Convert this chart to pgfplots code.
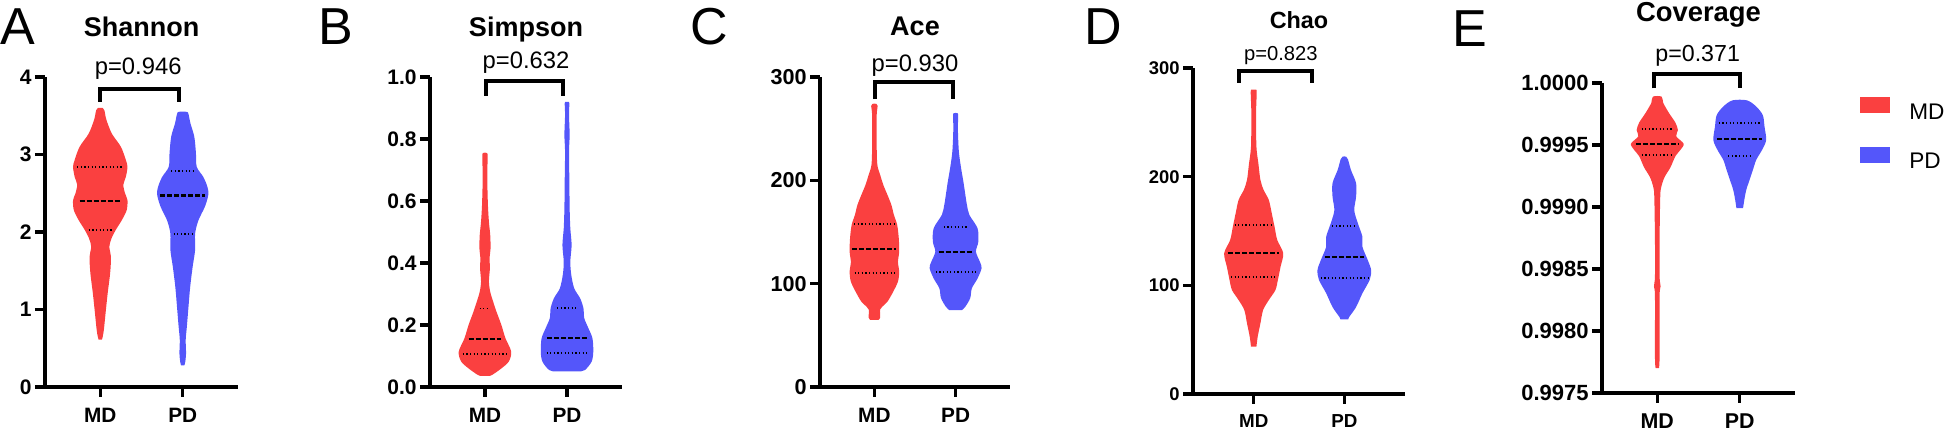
\documentclass[border=0pt]{standalone}
\usepackage{fontspec}
\setmainfont{Liberation Sans}
\usepackage{pgfplots}
\usepackage{pgfplotstable}
\pgfplotsset{compat=1.18}

\definecolor{mdred}{RGB}{250,64,64}
\definecolor{pdblue}{RGB}{84,86,250}

% violin outlines: y value and signed half width (category units),
% up the right side, then down the left side
\pgfplotstableread{
y w
0.61 0.02
0.65 0.03
0.74 0.044
0.95 0.064
1.21 0.09
1.47 0.12
1.68 0.13
1.81 0.11
1.92 0.137
2.03 0.19
2.15 0.26
2.28 0.32
2.41 0.33
2.50 0.30
2.61 0.28
2.71 0.31
2.84 0.33
2.93 0.31
3.10 0.25
3.27 0.14
3.45 0.074
3.57 0.05
3.60 0.03
3.60 -0.03
3.57 -0.05
3.45 -0.074
3.27 -0.14
3.10 -0.25
2.93 -0.31
2.84 -0.33
2.71 -0.31
2.61 -0.28
2.50 -0.30
2.41 -0.33
2.28 -0.32
2.15 -0.26
2.03 -0.19
1.92 -0.137
1.81 -0.11
1.68 -0.13
1.47 -0.12
1.21 -0.09
0.95 -0.064
0.74 -0.044
0.65 -0.03
0.61 -0.02
}\shanMD
\pgfplotstableread{
y w
0.28 0.02
0.32 0.03
0.43 0.04
0.61 0.036
0.78 0.05
1.04 0.07
1.29 0.09
1.55 0.12
1.77 0.15
1.98 0.15
2.15 0.19
2.33 0.27
2.48 0.31
2.58 0.30
2.71 0.25
2.84 0.17
3.02 0.16
3.23 0.14
3.40 0.094
3.52 0.07
3.55 0.05
3.55 -0.05
3.52 -0.07
3.40 -0.094
3.23 -0.14
3.02 -0.16
2.84 -0.17
2.71 -0.25
2.58 -0.30
2.48 -0.31
2.33 -0.27
2.15 -0.19
1.98 -0.15
1.77 -0.15
1.55 -0.12
1.29 -0.09
1.04 -0.07
0.78 -0.05
0.61 -0.036
0.43 -0.04
0.32 -0.03
0.28 -0.02
}\shanPD
\pgfplotstableread{
y w
0.036 0.06
0.041 0.10
0.060 0.20
0.082 0.29
0.114 0.32
0.157 0.25
0.200 0.20
0.243 0.14
0.275 0.10
0.307 0.064
0.340 0.048
0.383 0.06
0.415 0.056
0.447 0.068
0.490 0.064
0.533 0.048
0.587 0.036
0.673 0.028
0.745 0.032
0.755 0.02
0.755 -0.02
0.745 -0.032
0.673 -0.028
0.587 -0.036
0.533 -0.048
0.490 -0.064
0.447 -0.068
0.415 -0.056
0.383 -0.06
0.340 -0.048
0.307 -0.064
0.275 -0.10
0.243 -0.14
0.200 -0.20
0.157 -0.25
0.114 -0.32
0.082 -0.29
0.060 -0.20
0.041 -0.10
0.036 -0.06
}\simpMD
\pgfplotstableread{
y w
0.050 0.15
0.055 0.22
0.082 0.30
0.114 0.32
0.157 0.31
0.190 0.26
0.222 0.21
0.254 0.20
0.286 0.16
0.318 0.088
0.361 0.052
0.404 0.04
0.458 0.056
0.512 0.04
0.576 0.032
0.673 0.028
0.760 0.024
0.813 0.032
0.877 0.024
0.915 0.028
0.920 0.015
0.920 -0.015
0.915 -0.028
0.877 -0.024
0.813 -0.032
0.760 -0.024
0.673 -0.028
0.576 -0.032
0.512 -0.04
0.458 -0.056
0.404 -0.04
0.361 -0.052
0.318 -0.088
0.286 -0.16
0.254 -0.20
0.222 -0.21
0.190 -0.26
0.157 -0.31
0.114 -0.32
0.082 -0.30
0.055 -0.22
0.050 -0.15
}\simpPD
\pgfplotstableread{
y w
65 0.05
67 0.07
75 0.07
78 0.10
82.5 0.16
92 0.23
102 0.29
111.6 0.305
121 0.29
131 0.305
144 0.30
157 0.28
166.5 0.24
176 0.21
186 0.16
195.5 0.11
205 0.072
215 0.036
234 0.028
263 0.028
272 0.04
274 0.025
274 -0.025
272 -0.04
263 -0.028
234 -0.028
215 -0.036
205 -0.072
195.5 -0.11
186 -0.16
176 -0.21
166.5 -0.24
157 -0.28
144 -0.30
131 -0.305
121 -0.29
111.6 -0.305
102 -0.29
92 -0.23
82.5 -0.16
78 -0.10
75 -0.07
67 -0.07
65 -0.05
}\aceMD
\pgfplotstableread{
y w
74.5 0.08
77.7 0.12
86 0.18
95.5 0.20
105 0.27
115 0.32
121 0.30
131 0.25
140.6 0.28
153.6 0.27
166.5 0.17
176 0.14
186 0.12
198.7 0.096
211.6 0.068
228 0.04
250 0.028
263 0.032
265 0.02
265 -0.02
263 -0.032
250 -0.028
228 -0.04
211.6 -0.068
198.7 -0.096
186 -0.12
176 -0.14
166.5 -0.17
153.6 -0.27
140.6 -0.28
131 -0.25
121 -0.30
115 -0.32
105 -0.27
95.5 -0.20
86 -0.18
77.7 -0.12
74.5 -0.08
}\acePD
\pgfplotstableread{
y w
43.5 0.03
52.7 0.044
65 0.074
77.3 0.104
86.5 0.167
95.7 0.24
105 0.267
117 0.296
129.5 0.326
141.7 0.26
154 0.23
166 0.20
178.5 0.167
187.7 0.11
197 0.074
212 0.052
227.6 0.03
258 0.026
278 0.033
280 0.02
280 -0.02
278 -0.033
258 -0.026
227.6 -0.03
212 -0.052
197 -0.074
187.7 -0.11
178.5 -0.167
166 -0.20
154 -0.23
141.7 -0.26
129.5 -0.326
117 -0.296
105 -0.267
95.7 -0.24
86.5 -0.167
77.3 -0.104
65 -0.074
52.7 -0.044
43.5 -0.03
}\chaoMD
\pgfplotstableread{
y w
68.7 0.044
71 0.055
80 0.13
92.7 0.20
105 0.28
114 0.296
123 0.26
135.5 0.20
144.7 0.20
157 0.15
169 0.11
181.5 0.13
194 0.13
206 0.074
216 0.04
218.4 0.02
218.4 -0.02
216 -0.04
206 -0.074
194 -0.13
181.5 -0.13
169 -0.11
157 -0.15
144.7 -0.20
135.5 -0.20
123 -0.26
114 -0.296
105 -0.28
92.7 -0.20
80 -0.13
71 -0.055
68.7 -0.044
}\chaoPD
\pgfplotstableread{
y w
0.99770 0.02
0.99779 0.028
0.99828 0.028
0.99836 0.04
0.99844 0.028
0.99873 0.028
0.99908 0.036
0.99916 0.048
0.99924 0.088
0.99932 0.16
0.99941 0.22
0.99946 0.28
0.99951 0.32
0.99957 0.23
0.99962 0.25
0.99968 0.22
0.99976 0.14
0.99984 0.072
0.99989 0.053
0.99989 -0.053
0.99984 -0.072
0.99976 -0.14
0.99968 -0.22
0.99962 -0.25
0.99957 -0.23
0.99951 -0.32
0.99946 -0.28
0.99941 -0.22
0.99932 -0.16
0.99924 -0.088
0.99916 -0.048
0.99908 -0.036
0.99873 -0.028
0.99844 -0.028
0.99836 -0.04
0.99828 -0.028
0.99779 -0.028
0.99770 -0.02
}\covMD
\pgfplotstableread{
y w
0.99899 0.04
0.99906 0.056
0.99914 0.08
0.99922 0.12
0.99930 0.16
0.99938 0.20
0.99946 0.27
0.99954 0.32
0.99965 0.30
0.99974 0.28
0.99981 0.20
0.99986 0.088
0.99986 -0.088
0.99981 -0.20
0.99974 -0.28
0.99965 -0.30
0.99954 -0.32
0.99946 -0.27
0.99938 -0.20
0.99930 -0.16
0.99922 -0.12
0.99914 -0.08
0.99906 -0.056
0.99899 -0.04
}\covPD

% #1 table, #2 centre, #3 colour, #4 y expression
\newcommand\violin[4]{%
  \addplot[fill=#3, draw=none, smooth, forget plot] table[x expr=#2+\thisrow{w}, y expr=#4] {#1};
}

\pgfplotsset{
  vio/.style={
    scale only axis, axis lines*=left, clip=false,
    axis line style={line width=1.7pt},
    major tick style={line width=1.7pt, black},
    tick align=outside, major tick length=5pt,
    xmin=0.33, xmax=2.67, xtick={1,2}, xticklabels={MD,PD},
    ytick pos=left, xtick pos=bottom,
    yticklabel style={font=\bfseries\fontsize{10.5}{11}\selectfont, inner sep=1.5pt},
    xticklabel style={font=\bfseries\fontsize{10.4}{11}\selectfont, yshift=-2pt},
    every axis title shift=0pt,
    title style={at={(0.5,1)}, anchor=base, font=\bfseries\fontsize{13.5}{14}\selectfont},
  },
  med/.style={black, line width=1.1pt, dash pattern=on 2.5pt off 1pt, forget plot},
  qrt/.style={black, line width=0.9pt, dash pattern=on 0.6pt off 1.2pt, forget plot},
  brk/.style={black, line width=2pt, forget plot},
}
\tikzset{pv/.style={anchor=base, font=\fontsize{11.9}{12}\selectfont}}

\begin{document}
\begin{tikzpicture}
\useasboundingbox (0,0) rectangle (972pt,216.5pt);

% A Shannon
\begin{axis}[vio, at={(22.5pt,23pt)}, anchor=south west, width=96.5pt, height=155pt,
  ymin=0, ymax=4, ytick={0,1,2,3,4}, yticklabels={0,1,2,3,4}, title={Shannon},
  title style={yshift=20pt}]
\violin{\shanMD}{1}{mdred}{\thisrow{y}}
\violin{\shanPD}{2}{pdblue}{\thisrow{y}}
\addplot[qrt] coordinates {(0.72,2.84) (1.28,2.84)};
\addplot[med] coordinates {(0.75,2.40) (1.25,2.40)};
\addplot[qrt] coordinates {(0.86,2.03) (1.14,2.03)};
\addplot[qrt] coordinates {(1.86,2.79) (2.14,2.79)};
\addplot[med] coordinates {(1.73,2.47) (2.27,2.47)};
\addplot[qrt] coordinates {(1.89,1.97) (2.11,1.97)};
\addplot[brk] coordinates {(1,3.68) (1,3.85) (1.95,3.85) (1.95,3.68)};
\node[pv] at (axis cs:1.46,4.03) {p=0.946};
\end{axis}

% B Simpson
\begin{axis}[vio, at={(215pt,23pt)}, anchor=south west, width=96pt, height=155pt,
  ymin=0, ymax=1, ytick={0,0.2,0.4,0.6,0.8,1}, yticklabels={0.0,0.2,0.4,0.6,0.8,1.0}, title={Simpson},
  title style={yshift=20.2pt}]
\violin{\simpMD}{1}{mdred}{\thisrow{y}}
\violin{\simpPD}{2}{pdblue}{\thisrow{y}}
\addplot[qrt] coordinates {(0.935,0.253) (1.065,0.253)};
\addplot[med] coordinates {(0.80,0.156) (1.20,0.156)};
\addplot[qrt] coordinates {(0.73,0.107) (1.27,0.107)};
\addplot[qrt] coordinates {(1.88,0.255) (2.12,0.255)};
\addplot[med] coordinates {(1.76,0.158) (2.24,0.158)};
\addplot[qrt] coordinates {(1.75,0.109) (2.25,0.109)};
\addplot[brk] coordinates {(1.01,0.94) (1.01,0.988) (1.95,0.988) (1.95,0.94)};
\node[pv] at (axis cs:1.5,1.028) {p=0.632};
\end{axis}

% C Ace
\begin{axis}[vio, at={(410pt,23pt)}, anchor=south west, width=95pt, height=155pt,
  ymin=0, ymax=300, ytick={0,100,200,300}, yticklabels={0,100,200,300}, title={Ace},
  title style={yshift=20.5pt},
  yticklabel style={font=\bfseries\fontsize{10.8}{11}\selectfont}]
\violin{\aceMD}{1}{mdred}{\thisrow{y}}
\violin{\acePD}{2}{pdblue}{\thisrow{y}}
\addplot[qrt] coordinates {(0.75,157.4) (1.25,157.4)};
\addplot[med] coordinates {(0.73,133.5) (1.27,133.5)};
\addplot[qrt] coordinates {(0.755,110.3) (1.245,110.3)};
\addplot[qrt] coordinates {(1.855,155) (2.145,155)};
\addplot[med] coordinates {(1.79,131) (2.21,131)};
\addplot[qrt] coordinates {(1.756,111.6) (2.244,111.6)};
\addplot[brk] coordinates {(1.01,278.7) (1.01,295.4) (1.97,295.4) (1.97,278.7)};
\node[pv] at (axis cs:1.5,305) {p=0.930};
\end{axis}

% D Chao
\begin{axis}[vio, at={(596.5pt,19.5pt)}, anchor=south west, width=106pt, height=163pt,
  ymin=0, ymax=300, ytick={0,100,200,300}, yticklabels={0,100,200,300}, title={Chao},
  yticklabel style={font=\bfseries\fontsize{9.2}{9}\selectfont},
  xticklabel style={font=\bfseries\fontsize{9.4}{10}\selectfont},
  title style={yshift=20pt, font=\bfseries\fontsize{11.7}{12}\selectfont}]
\violin{\chaoMD}{1}{mdred}{\thisrow{y}}
\violin{\chaoPD}{2}{pdblue}{\thisrow{y}}
\addplot[qrt] coordinates {(0.79,155.5) (1.21,155.5)};
\addplot[med] coordinates {(0.72,129.7) (1.28,129.7)};
\addplot[qrt] coordinates {(0.75,108) (1.25,108)};
\addplot[qrt] coordinates {(1.867,154.9) (2.133,154.9)};
\addplot[med] coordinates {(1.785,126.3) (2.215,126.3)};
\addplot[qrt] coordinates {(1.74,106.5) (2.26,106.5)};
\addplot[brk] coordinates {(0.84,286.4) (0.84,297.5) (1.64,297.5) (1.64,286.4)};
\node[pv, font=\fontsize{10.1}{11}\selectfont] at (axis cs:1.30,307.3) {p=0.823};
\end{axis}

% E Coverage
\begin{axis}[vio, at={(801pt,20pt)}, anchor=south west, width=96.5pt, height=155pt,
  ymin=0, ymax=25, ytick={0,5,10,15,20,25},
  yticklabels={0.9975,0.9980,0.9985,0.9990,0.9995,1.0000}, title={Coverage},
  yticklabel style={font=\bfseries\fontsize{11}{11}\selectfont},
  xticklabel style={font=\bfseries\fontsize{10.7}{11}\selectfont},
  title style={yshift=30.7pt, font=\bfseries\fontsize{13.7}{14}\selectfont},
  legend style={at={(1.337,0.955)}, anchor=north west, draw=none, fill=none,
    inner sep=0pt, row sep=12.5pt, column sep=9.5pt,
    font=\fontsize{11.3}{12}\selectfont, nodes={inner sep=0pt}},
  legend cell align=left]
\violin{\covMD}{1}{mdred}{(\thisrow{y}-0.9975)*10000}
\violin{\covPD}{2}{pdblue}{(\thisrow{y}-0.9975)*10000}
\addplot[qrt] coordinates {(0.81,21.3) (1.19,21.3)};
\addplot[med] coordinates {(0.74,20.1) (1.26,20.1)};
\addplot[qrt] coordinates {(0.813,19.2) (1.187,19.2)};
\addplot[qrt] coordinates {(1.746,21.8) (2.254,21.8)};
\addplot[med] coordinates {(1.73,20.5) (2.27,20.5)};
\addplot[qrt] coordinates {(1.86,19.1) (2.14,19.1)};
\addplot[brk] coordinates {(0.955,24.57) (0.955,25.73) (2,25.73) (2,24.57)};
\node[pv, font=\fontsize{11.6}{12}\selectfont] at (axis cs:1.49,26.72) {p=0.371};
\addlegendimage{legend image code/.code={\fill[mdred] (0pt,0pt) rectangle (14.5pt,7.5pt);}}
\addlegendentry{MD}
\addlegendimage{legend image code/.code={\fill[pdblue] (0pt,0pt) rectangle (14.5pt,7.5pt);}}
\addlegendentry{PD}
\end{axis}

\node[anchor=base west, inner sep=0pt, font=\fontsize{26}{26}\selectfont] at (0pt,194pt) {A};
\node[anchor=base west, inner sep=0pt, font=\fontsize{26}{26}\selectfont] at (159pt,194pt) {B};
\node[anchor=base west, inner sep=0pt, font=\fontsize{26}{26}\selectfont] at (345pt,194pt) {C};
\node[anchor=base west, inner sep=0pt, font=\fontsize{26}{26}\selectfont] at (542pt,194pt) {D};
\node[anchor=base west, inner sep=0pt, font=\fontsize{26}{26}\selectfont] at (726pt,193pt) {E};
\end{tikzpicture}
\end{document}
